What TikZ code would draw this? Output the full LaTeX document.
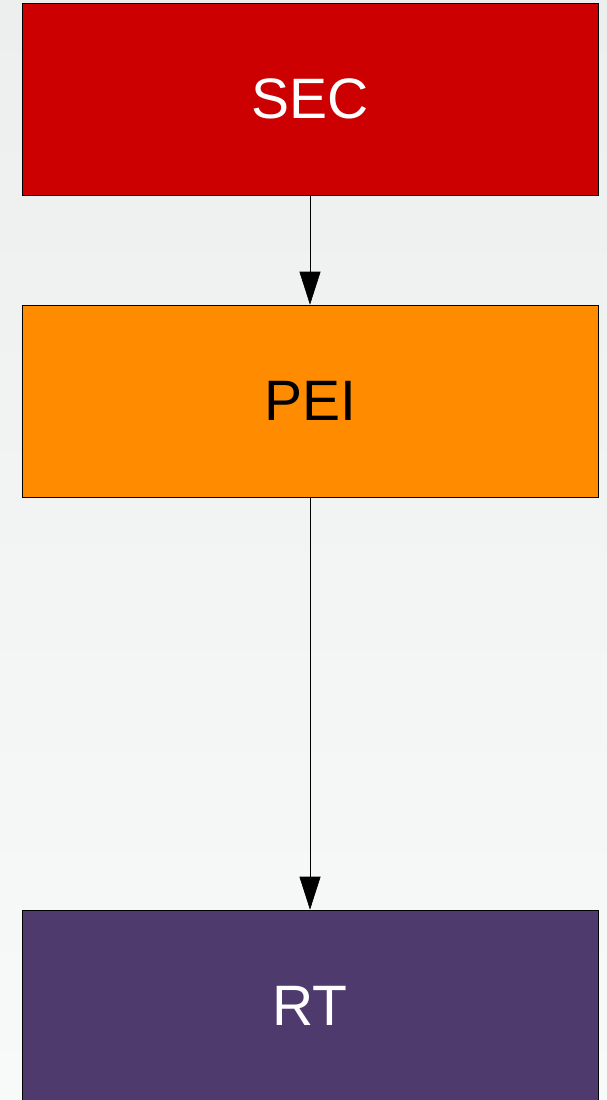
\documentclass[tikz,border=0pt]{standalone}
\usepackage{fontspec}
\setmainfont{Liberation Sans}
\usetikzlibrary{arrows.meta}
\definecolor{bgtop}{HTML}{EDEEEE}
\definecolor{bgbot}{HTML}{F8F9F9}
\definecolor{secred}{HTML}{CC0000}
\definecolor{peiorange}{HTML}{FF8C00}
\definecolor{rtpurple}{HTML}{4F3A6E}
\tikzset{
  stagebox/.style={draw=black, line width=0.6pt, minimum width=576pt, minimum height=192pt,
    inner sep=0pt, font=\fontsize{57}{62}\selectfont},
  flow/.style={draw=black, line width=0.6pt, -{Triangle[length=33pt,width=21pt]}}
}
\begin{document}
\begin{tikzpicture}[x=1pt,y=-1pt]
  \useasboundingbox (0,0) rectangle (607,1100);
  \clip (0,0) rectangle (607,1100);
  \shade[top color=bgtop, bottom color=bgbot] (0,0) rectangle (607,1100);
  \node[stagebox, fill=secred, text=white] (sec) at (310,99) {SEC};
  \node[stagebox, fill=peiorange, text=black] (pei) at (310,401) {PEI};
  \node[stagebox, fill=rtpurple, text=white] (rt) at (310,1006) {RT};
  \draw[flow] (sec) -- (pei);
  \draw[flow] (pei) -- (rt);
\end{tikzpicture}
\end{document}
